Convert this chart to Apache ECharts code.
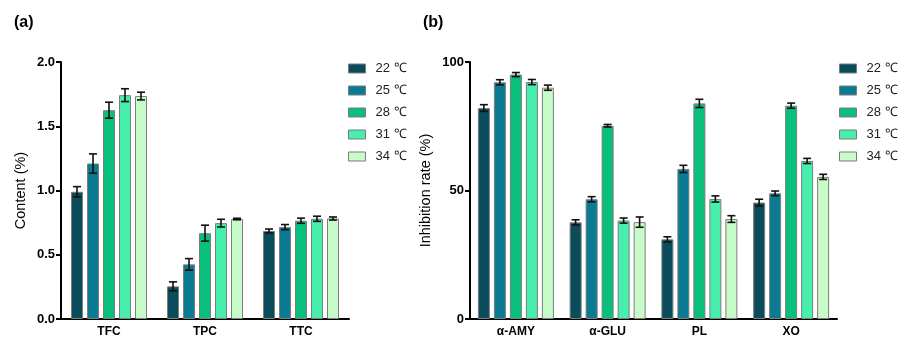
<!DOCTYPE html>
<html><head><meta charset="utf-8">
<script src="https://cdn.jsdelivr.net/npm/echarts@6/dist/echarts.min.js"></script>
<style>html,body{margin:0;padding:0;background:#fff}#c{width:900px;height:340px}</style>
</head><body><div id="c"></div>
<script>
const temps = ['22 ℃', '25 ℃', '28 ℃', '31 ℃', '34 ℃'];
const colors = ['#0b4c5c', '#0a7b93', '#08bf7b', '#46efac', '#c7fcc8'];

const catsA = ['TFC', 'TPC', 'TTC'];
const valsA = [
  [0.99, 0.254, 0.685],
  [1.21, 0.425, 0.715],
  [1.625, 0.668, 0.765],
  [1.742, 0.746, 0.78],
  [1.735, 0.778, 0.782]
];
const errA = [
  [0.04, 0.035, 0.015],
  [0.075, 0.045, 0.02],
  [0.062, 0.062, 0.02],
  [0.05, 0.03, 0.02],
  [0.03, 0.006, 0.012]
];

const catsB = ['α-AMY', 'α-GLU', 'PL', 'XO'];
const valsB = [
  [82.1, 37.6, 31.0, 45.3],
  [92.1, 46.6, 58.4, 48.9],
  [95.1, 75.2, 83.9, 83.0],
  [92.2, 38.3, 46.7, 61.5],
  [90.0, 37.7, 38.9, 55.3]
];
const errB = [
  [1.3, 1.0, 1.0, 1.3],
  [1.0, 1.0, 1.4, 0.9],
  [0.8, 0.5, 1.6, 1.0],
  [1.0, 1.0, 1.2, 1.0],
  [1.0, 2.0, 1.3, 1.0]
];

const ticksA = { min: 0, max: 2, interval: 0.5 };
const ticksB = { min: 0, max: 100, interval: 50 };

const BW = 12, PITCH = 16;
const font = 'Liberation Sans, Arial, sans-serif';

function errSeries(vals, errs, i, axisIdx) {
  return {
    type: 'custom', xAxisIndex: axisIdx, yAxisIndex: axisIdx, z: 5, silent: true,
    data: vals[i].map((v, k) => [k, v, errs[i][k]]),
    renderItem: function (params, api) {
      const k = api.value(0), v = api.value(1), e = api.value(2);
      const p = api.coord([k, v]);
      const x = p[0] + (i - 2) * PITCH;
      const yT = api.coord([k, v + e])[1];
      const yB = api.coord([k, v - e])[1];
      const st = { stroke: '#111', lineWidth: 1.6 };
      return { type: 'group', children: [
        { type: 'line', shape: { x1: x, y1: yT, x2: x, y2: yB }, style: st },
        { type: 'line', shape: { x1: x - 4, y1: yT, x2: x + 4, y2: yT }, style: st },
        { type: 'line', shape: { x1: x - 4, y1: yB, x2: x + 4, y2: yB }, style: st }
      ]};
    }
  };
}

const series = [];
[[valsA, errA, 0], [valsB, errB, 1]].forEach(([vals, errs, ax]) => {
  temps.forEach((t, i) => {
    series.push({
      name: t, type: 'bar', xAxisIndex: ax, yAxisIndex: ax,
      barWidth: BW, barGap: ((PITCH - BW) / BW * 100) + '%',
      itemStyle: { color: colors[i], borderColor: '#7d7d7d', borderWidth: 1 },
      data: vals[i]
    });
  });
  temps.forEach((t, i) => series.push(errSeries(vals, errs, i, ax)));
});

function xAx(cats, idx) {
  return {
    type: 'category', gridIndex: idx, data: cats,
    axisLine: { lineStyle: { color: '#000', width: 2 } },
    axisTick: { alignWithLabel: true, length: 5, lineStyle: { color: '#000', width: 2 } },
    axisLabel: { color: '#000', fontWeight: 'bold', fontSize: 12, fontFamily: font, margin: 7 }
  };
}
function yAx(t, idx, name, gap, dec) {
  return {
    type: 'value', gridIndex: idx, min: t.min, max: t.max, interval: t.interval,
    name: name, nameLocation: 'middle', nameGap: gap, nameRotate: 90,
    nameTextStyle: { color: '#000', fontSize: 14.5, fontFamily: font },
    axisLine: { show: true, lineStyle: { color: '#000', width: 2 } },
    axisTick: { show: true, length: 5, lineStyle: { color: '#000', width: 2 } },
    splitLine: { show: false },
    axisLabel: { color: '#000', fontWeight: 'bold', fontSize: 13, fontFamily: font, margin: 6,
      formatter: v => dec ? v.toFixed(1) : String(v) }
  };
}
function legend(left) {
  return {
    data: temps, orient: 'vertical', left: left, top: 57,
    itemWidth: 17, itemHeight: 9, itemGap: 9, icon: 'rect',
    textStyle: { color: '#222', fontSize: 13, fontFamily: font, padding: [0, 0, 0, 5] },
    itemStyle: { borderColor: '#7d7d7d', borderWidth: 1 }
  };
}

const chart = echarts.init(document.getElementById('c'));
chart.setOption({
  animation: false,
  title: [
    { text: '(a)', left: 9, top: 10, textStyle: { fontSize: 16, fontWeight: 'bold', color: '#000', fontFamily: font } },
    { text: '(b)', left: 418, top: 10, textStyle: { fontSize: 16, fontWeight: 'bold', color: '#000', fontFamily: font } }
  ],
  legend: [legend(343), legend(834)],
  grid: [
    { left: 61, right: 551, top: 62, bottom: 21 },
    { left: 470, right: 63, top: 62, bottom: 21 }
  ],
  xAxis: [xAx(catsA, 0), xAx(catsB, 1)],
  yAxis: [yAx(ticksA, 0, 'Content (%)', 33, true), yAx(ticksB, 1, 'Inhibition rate (%)', 37, false)],
  series: series
});
</script>
</body></html>
